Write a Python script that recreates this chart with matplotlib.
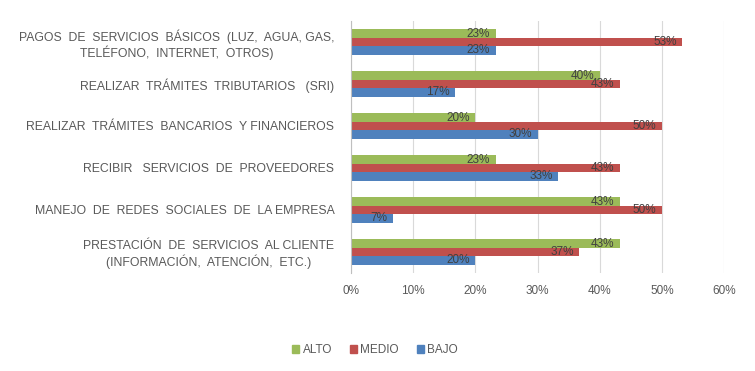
import matplotlib.pyplot as plt
import numpy as np
from matplotlib.patches import Patch

plt.rcParams['font.family'] = ['Liberation Sans', 'DejaVu Sans']

categorias = [
    'PAGOS  DE  SERVICIOS  BÁSICOS  (LUZ,  AGUA, GAS,\nTELÉFONO,  INTERNET,  OTROS)',
    'REALIZAR  TRÁMITES  TRIBUTARIOS   (SRI)',
    'REALIZAR  TRÁMITES  BANCARIOS  Y FINANCIEROS',
    'RECIBIR   SERVICIOS  DE  PROVEEDORES',
    'MANEJO  DE  REDES  SOCIALES  DE  LA EMPRESA',
    'PRESTACIÓN  DE  SERVICIOS  AL CLIENTE\n(INFORMACIÓN,  ATENCIÓN,  ETC.)',
]
alto = [23.3, 40.0, 20.0, 23.3, 43.3, 43.3]
medio = [53.3, 43.3, 50.0, 43.3, 50.0, 36.7]
bajo = [23.3, 16.7, 30.0, 33.3, 6.7, 20.0]
series = [('ALTO', alto, '#9BBB59'), ('MEDIO', medio, '#C0504D'), ('BAJO', bajo, '#4F81BD')]

fig = plt.figure(figsize=(7.55, 3.71), dpi=100)
ax = fig.add_axes([351 / 755, 1 - 273 / 371, (724 - 351) / 755, 252 / 371])

y = np.arange(len(categorias))
h = 0.2
for k, (nombre, vals, color) in enumerate(series):
    pos = y + (k - 1) * h
    ax.barh(pos, vals, height=h, color=color, zorder=2)
    for p, v in zip(pos, vals):
        ax.annotate(f'{v:.0f}%', (v, p), xytext=(-4, 0), textcoords='offset points',
                    ha='right', va='center', fontsize=8.5, color='#404040', zorder=3)

ax.set_xlim(0, 60)
ax.set_ylim(len(categorias) - 0.5, -0.5)
ax.set_xticks(np.arange(0, 61, 10))
ax.set_xticklabels([f'{t}%' for t in range(0, 61, 10)])
ax.set_yticks(y)
ax.set_yticklabels(categorias, multialignment='center', fontsize=8.8)
ax.tick_params(axis='both', length=0, colors='#595959')
ax.tick_params(axis='x', labelsize=8.5, pad=9)
ax.tick_params(axis='y', pad=12)
ax.grid(axis='x', color='#D9D9D9', linewidth=0.8, zorder=0)
for s in ['top', 'right', 'bottom']:
    ax.spines[s].set_visible(False)
ax.spines['left'].set_color('#BFBFBF')
ax.spines['left'].set_zorder(4)

handles = [Patch(color=c, label=n) for n, _, c in series]
fig.legend(handles=handles, loc='center', bbox_to_anchor=(375 / 755, 1 - 350 / 371), ncol=3,
           frameon=False, fontsize=8.5, handlelength=0.6, handleheight=0.6, handletextpad=0.3,
           columnspacing=1.5, labelcolor='#595959')

fig.savefig('out.png', dpi=100)
